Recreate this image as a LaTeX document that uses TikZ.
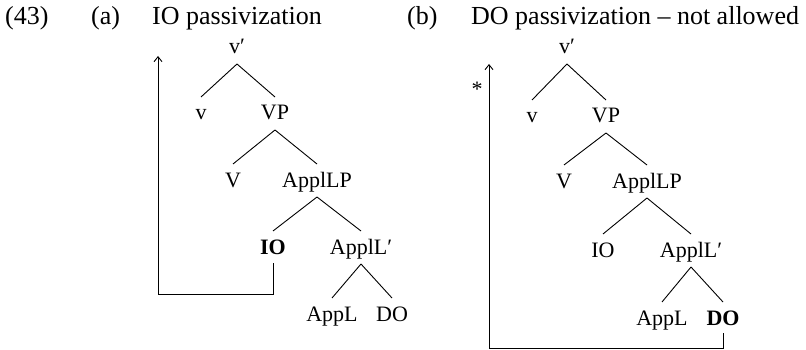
\documentclass[tikz,border=0pt]{standalone}
\usepackage{fontspec}
\setmainfont{Liberation Serif}
\usetikzlibrary{arrows.meta}
\begin{document}
\begin{tikzpicture}[x=1pt,y=-1pt,
  lbl/.style={anchor=base,inner sep=0pt,font=\fontsize{22}{26}\selectfont},
  head/.style={anchor=base west,inner sep=0pt,font=\fontsize{26}{30}\selectfont},
  branch/.style={line width=0.9pt},
  move/.style={line width=0.9pt,-{Straight Barb[length=5pt,width=8pt]}}]
\useasboundingbox (0,0) rectangle (806,350);

% headings
\node[head] (num) at (5,25) {(43)};
\node[head] (la) at (91,25) {(a)};
\node[head] (ta) at (152,25) {IO passivization};
\node[head] (lb) at (407,25) {(b)};
\node[head] (tb) at (471,25) {DO passivization – not allowed};

% tree (a)
\node[lbl] (av1)  at (237,54)  {v′};
\node[lbl] (av)   at (201,120) {v};
\node[lbl] (aVP)  at (275,120) {VP};
\node[lbl] (aV)   at (233,187) {V};
\node[lbl] (aALP) at (317,187) {ApplLP};
\node[lbl] (aIO)  at (273,254) {\textbf{IO}};
\node[lbl] (aAL1) at (361,254) {ApplL′};
\node[lbl] (aAL)  at (332,321) {AppL};
\node[lbl] (aDO)  at (392,321) {DO};

% tree (b)
\node[lbl] (bv1)  at (567,54)  {v′};
\node[lbl] (bv)   at (532,123) {v};
\node[lbl] (bVP)  at (606,123) {VP};
\node[lbl] (bV)   at (564,188) {V};
\node[lbl] (bALP) at (647,188) {ApplLP};
\node[lbl] (bIO)  at (603,257) {IO};
\node[lbl] (bAL1) at (691,257) {ApplL′};
\node[lbl] (bAL)  at (662,325) {AppL};
\node[lbl] (bDO)  at (723,325) {\textbf{DO}};

\foreach \p/\c in {av1/av,av1/aVP,aVP/aV,aVP/aALP,aALP/aIO,aALP/aAL1,aAL1/aAL,aAL1/aDO,
                   bv1/bv,bv1/bVP,bVP/bV,bVP/bALP,bALP/bIO,bALP/bAL1,bAL1/bAL,bAL1/bDO}
  \draw[branch] ([yshift=-10pt]\p.base) -- ([yshift=23pt]\c.base);

% movement arrows
\coordinate (aturn) at (158,294);
\coordinate (atip)  at (158,56);
\draw[move] ([yshift=-9pt]aIO.base) |- (aturn) -- (atip);

\coordinate (bturn) at (489,348);
\coordinate (btip)  at (489,64);
\draw[move] ([yshift=-8pt]bDO.base) |- (bturn) -- (btip);
\node[lbl] (star) at (477,97) {*};
\end{tikzpicture}
\end{document}
